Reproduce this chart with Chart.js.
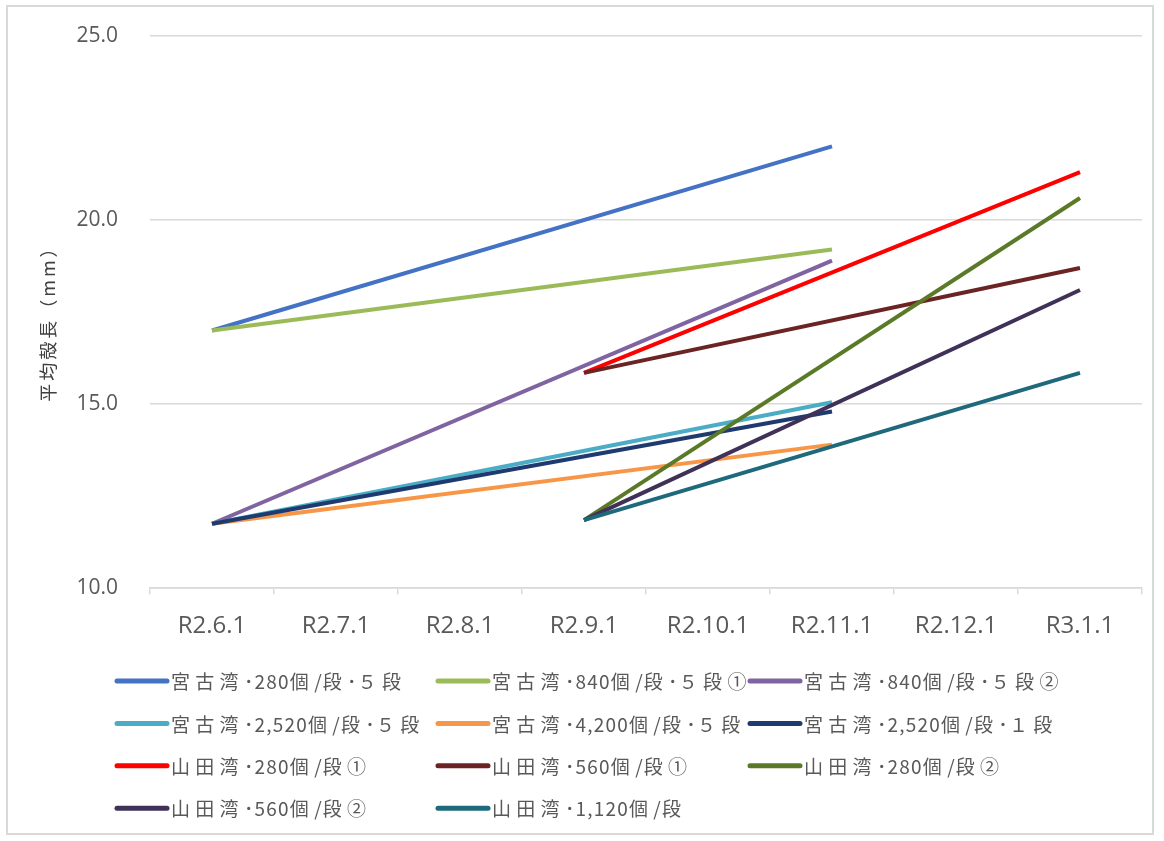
<!DOCTYPE html>
<html>
<head>
<meta charset="utf-8">
<script src="https://cdn.jsdelivr.net/npm/chart.js@4.4.1/dist/chart.umd.min.js"></script>
<style>
  html, body { margin: 0; padding: 0; background: #ffffff; }
  #wrap { position: relative; width: 1164px; height: 841px; }
  #frame { position: absolute; left: 6px; top: 5px; width: 1148px; height: 830px; border: 2px solid #D9D9D9; box-sizing: border-box; pointer-events: none; }
  canvas { position: absolute; left: 0; top: 0; }
</style>
</head>
<body>
<div id="wrap">
  <canvas id="c" width="1164" height="841"></canvas>
  <div id="frame"></div>
</div>
<script>
// ---- data ----
const categories = ['R2.6.1', 'R2.7.1', 'R2.8.1', 'R2.9.1', 'R2.10.1', 'R2.11.1', 'R2.12.1', 'R3.1.1'];

const seriesNames = [
  '宮古湾･280個/段･５段',
  '宮古湾･840個/段･５段①',
  '宮古湾･840個/段･５段②',
  '宮古湾･2,520個/段･５段',
  '宮古湾･4,200個/段･５段',
  '宮古湾･2,520個/段･１段',
  '山田湾･280個/段①',
  '山田湾･560個/段①',
  '山田湾･280個/段②',
  '山田湾･560個/段②',
  '山田湾･1,120個/段'
];

const miyako280_5 = [17.0, null, null, null, null, 22.0, null, null];
const miyako840_5a = [17.0, null, null, null, null, 19.2, null, null];
const miyako840_5b = [11.75, null, null, null, null, 18.9, null, null];
const miyako2520_5 = [11.75, null, null, null, null, 15.05, null, null];
const miyako4200_5 = [11.75, null, null, null, null, 13.9, null, null];
const miyako2520_1 = [11.75, null, null, null, null, 14.8, null, null];
const yamada280a = [null, null, null, 15.85, null, null, null, 21.3];
const yamada560a = [null, null, null, 15.85, null, null, null, 18.7];
const yamada280b = [null, null, null, 11.85, null, null, null, 20.6];
const yamada560b = [null, null, null, 11.85, null, null, null, 18.1];
const yamada1120 = [null, null, null, 11.85, null, null, null, 15.85];

const seriesValues = [miyako280_5, miyako840_5a, miyako840_5b, miyako2520_5, miyako4200_5,
  miyako2520_1, yamada280a, yamada560a, yamada280b, yamada560b, yamada1120];

const seriesColors = ['#4472C4', '#9BBB59', '#8064A2', '#4BACC6', '#F79646', '#1F3A6E',
  '#FF0000', '#6B2323', '#5A7A28', '#3F3158', '#1E6A7C'];

const yTicks = [10, 15, 20, 25];
const yTitle = '平均殻長（mm）';

// ---- legend (3-column grid) and spaced y title, drawn on the canvas ----
const LEG_X = [117, 438, 750];
const LEG_Y0 = 681;
const LEG_DY = 42.4;
const LEG_LEN = 50;

function drawSpaced(ctx, text, x, y, wideGap, narrowGap) {
  for (const ch of text) {
    ctx.fillText(ch, x, y);
    const code = ch.charCodeAt(0);
    const wide = code > 0x2000 && code !== 0xFF65;
    x += ctx.measureText(ch).width + (wide ? wideGap : narrowGap);
  }
}

const extras = {
  id: 'extras',
  afterDraw(chart) {
    const ctx = chart.ctx;
    // legend
    chart.data.datasets.forEach((ds, i) => {
      const col = i % 3, row = Math.floor(i / 3);
      const x = LEG_X[col], y = LEG_Y0 + row * LEG_DY;
      ctx.save();
      ctx.strokeStyle = ds.borderColor;
      ctx.lineWidth = 5;
      ctx.lineCap = 'round';
      ctx.beginPath();
      ctx.moveTo(x, y);
      ctx.lineTo(x + LEG_LEN, y);
      ctx.stroke();
      ctx.fillStyle = '#595959';
      ctx.font = '19px "Noto Sans CJK JP"';
      ctx.textBaseline = 'middle';
      ctx.textAlign = 'left';
      drawSpaced(ctx, ds.label, x + LEG_LEN + 4, y + 1, 5.3, 1.2);
      ctx.restore();
    });
    // y axis title
    const ya = chart.scales.y;
    ctx.save();
    ctx.translate(48, (ya.top + ya.bottom) / 2 + 7);
    ctx.rotate(-Math.PI / 2);
    ctx.fillStyle = '#404040';
    ctx.font = '18px "Noto Sans CJK JP"';
    ctx.textAlign = 'center';
    ctx.textBaseline = 'middle';
    try { ctx.letterSpacing = '3px'; } catch (e) {}
    ctx.fillText(yTitle, 0, 0);
    try { ctx.letterSpacing = '0px'; } catch (e) {}
    ctx.restore();
  }
};

const datasets = seriesNames.map((name, i) => ({
  label: name,
  data: seriesValues[i],
  borderColor: seriesColors[i],
  backgroundColor: seriesColors[i],
  borderWidth: 4,
  pointRadius: 0,
  spanGaps: true,
  tension: 0,
  fill: false,
  order: -i
}));

new Chart(document.getElementById('c'), {
  type: 'line',
  data: { labels: categories, datasets },
  plugins: [extras],
  options: {
    responsive: false,
    animation: false,
    devicePixelRatio: 1,
    layout: { padding: { left: 38, top: 36, right: 22, bottom: 182 } },
    plugins: { legend: { display: false }, tooltip: { enabled: false } },
    scales: {
      x: {
        offset: true,
        grid: { offset: true, drawOnChartArea: false, drawTicks: true, tickLength: 6, color: '#D9D9D9', lineWidth: 1.5 },
        border: { color: '#D9D9D9', width: 1.5 },
        ticks: { color: '#595959', padding: 18, font: { family: '"Open Sans"', size: 24 }, maxRotation: 0, autoSkip: false }
      },
      y: {
        min: 10,
        max: 25,
        afterBuildTicks(scale) { scale.ticks = yTicks.map(v => ({ value: v })); },
        afterFit(scale) { scale.width = 112; },
        grid: { color: '#D9D9D9', lineWidth: 1.5, drawTicks: true, tickLength: 32, tickColor: 'rgba(0,0,0,0)' },
        border: { display: false },
        ticks: { color: '#595959', padding: 0, font: { family: '"Open Sans"', size: 21 }, callback: v => Number(v).toFixed(1) }
      }
    }
  }
});
</script>
</body>
</html>
